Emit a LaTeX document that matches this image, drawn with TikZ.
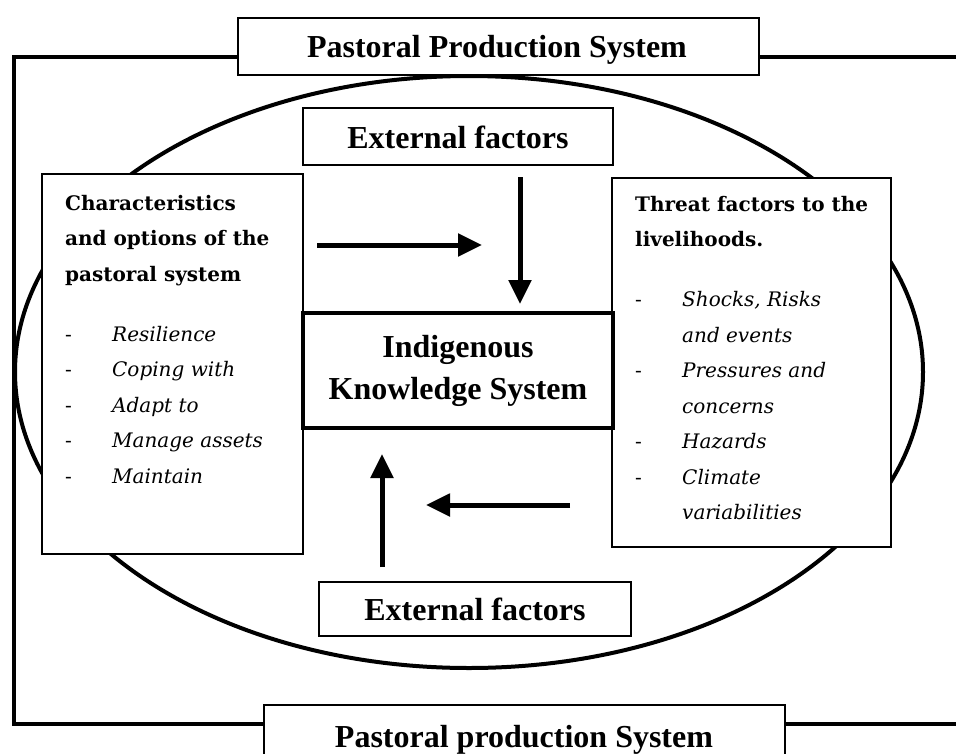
\documentclass[tikz,border=0pt]{standalone}
\usepackage{fontspec}
\setmainfont{Liberation Serif}
\newfontfamily\boxfont{DejaVu Serif}
\usetikzlibrary{arrows.meta}
\tikzset{
  frameline/.style={line width=4pt, line cap=rect},
  bigtitle/.style={draw, line width=1.5pt, fill=white, inner sep=0pt},
  titletext/.style={anchor=base, inner sep=0pt, font=\fontsize{32}{38}\selectfont\bfseries},
  sidebox/.style={draw, line width=2.5pt, fill=white},
  ikbox/.style={draw, line width=3.5pt, fill=white, align=center, font=\fontsize{32}{42}\selectfont\bfseries},
  boxtext/.style={anchor=north west, align=left, inner sep=0pt, font=\boxfont\fontsize{20}{35.5}\selectfont},
  bigarrow/.style={line width=5pt, -{Triangle[width=22pt,length=24pt]}},
}
\newcommand{\itm}[1]{\makebox[47pt][l]{-}\textit{#1}}
\newcommand{\ind}[1]{\hspace*{47pt}\textit{#1}}
\begin{document}
\begin{tikzpicture}[x=1pt,y=-1pt]
\useasboundingbox (0,0) rectangle (956,753);
% outer frame
\coordinate (tl) at (14,57);
\coordinate (bl) at (14,724);
\coordinate (tr) at (960,57);
\coordinate (br) at (960,724);
\draw[frameline] (tr) -- (tl) -- (bl) -- (br);
% ellipse
\draw[line width=4pt] (469,372) ellipse [x radius=454, y radius=296];
% title boxes
\node[bigtitle, minimum width=521pt, minimum height=57pt] (top) at (498.5,46.5) {};
\node[titletext] (toptxt) at (497,57) {Pastoral Production System};
\node[bigtitle, minimum width=521pt, minimum height=66pt] (bot) at (524.5,738) {};
\node[titletext] (bottxt) at (524,747) {Pastoral production System};
% external factor boxes
\node[bigtitle, minimum width=310pt, minimum height=57pt] (extop) at (458,136.5) {};
\node[titletext] (extoptxt) at (458,148) {External factors};
\node[bigtitle, minimum width=312pt, minimum height=54pt] (exbot) at (475,609) {};
\node[titletext] (exbottxt) at (475,620) {External factors};
% side boxes
\node[sidebox, minimum width=261pt, minimum height=380pt] (left) at (172.5,364) {};
\node[sidebox, minimum width=279pt, minimum height=369pt] (right) at (751.5,362.5) {};
\node[boxtext] (lefttxt) at (65,195) {\textbf{Characteristics}\\ \textbf{and options of the}\\ \textbf{pastoral system}\\[24.5pt]
\itm{Resilience}\\ \itm{Coping with}\\ \itm{Adapt to}\\ \itm{Manage assets}\\ \itm{Maintain}};
\node[boxtext] (righttxt) at (635,196) {\textbf{Threat factors to the}\\ \textbf{livelihoods.}\\[24.5pt]
\itm{Shocks, Risks}\\ \ind{and events}\\ \itm{Pressures and}\\ \ind{concerns}\\ \itm{Hazards}\\ \itm{Climate}\\ \ind{variabilities}};
% centre box
\node[ikbox, minimum width=310pt, minimum height=115pt] (iks) at (458,370.5) {Indigenous\\Knowledge System};
% arrows
\coordinate (a1s) at (317,245);
\coordinate (a1e) at (482,245);
\coordinate (a2s) at (520,177);
\coordinate (a2e) at (520,304);
\coordinate (a3s) at (382,567);
\coordinate (a3e) at (382,454);
\coordinate (a4s) at (570,505);
\coordinate (a4e) at (426,505);
\draw[bigarrow] (a1s) -- (a1e);
\draw[bigarrow] (a2s) -- (a2e);
\draw[bigarrow] (a3s) -- (a3e);
\draw[bigarrow] (a4s) -- (a4e);
\end{tikzpicture}
\end{document}
